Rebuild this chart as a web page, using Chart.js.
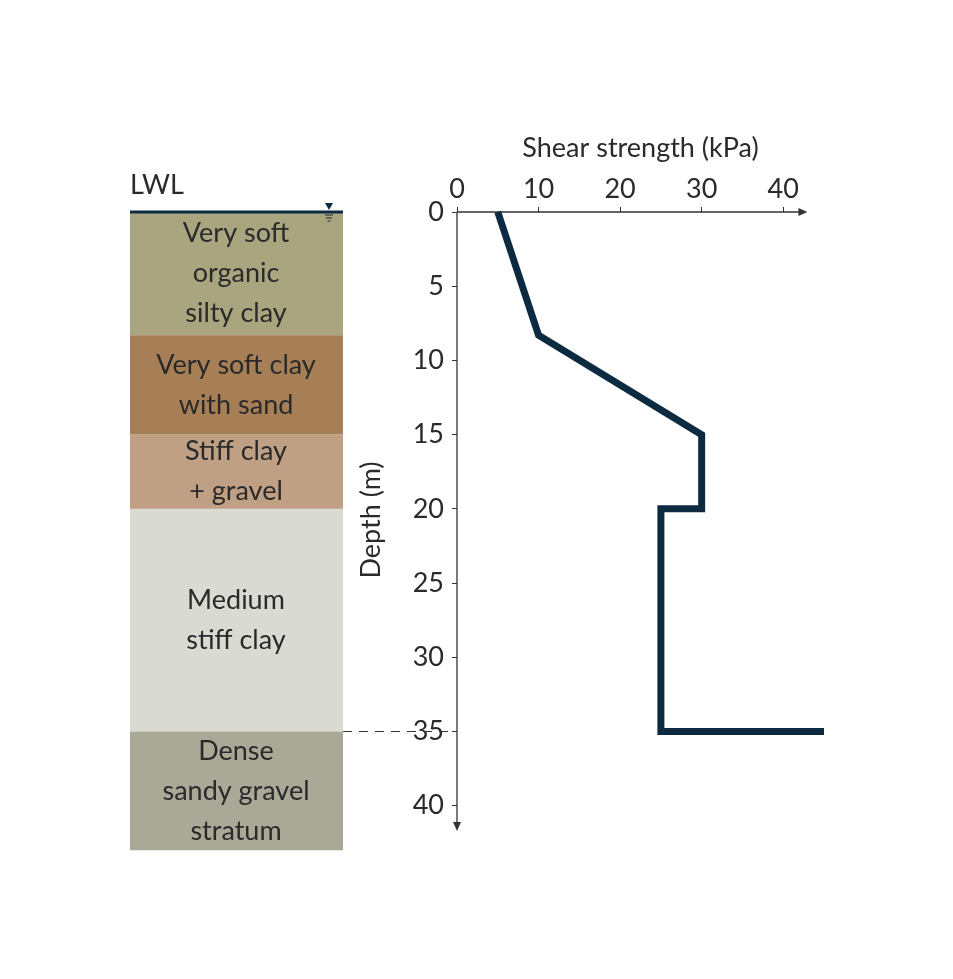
<!DOCTYPE html><html><head><meta charset="utf-8">
<script src="https://cdn.jsdelivr.net/npm/chart.js@4/dist/chart.umd.min.js"></script>
<style>html,body{margin:0;background:#fff}#w{width:953px;height:979px}</style></head><body>
<div id="w"><canvas id="c"></canvas></div>
<script>
const strengthKPa=[5,10,30,30,25,25,45];
const depthM=[0,8.3,15,20,20,35,35];
const xTicks=[0,10,20,30,40];
const yTicks=[0,5,10,15,20,25,30,35,40];
const layerTop=[0,8.3,15,20,35];
const layerBottom=[8.3,15,20,35,43];
const layerNames=[["Very soft","organic","silty clay"],["Very soft clay","with sand"],["Stiff clay","+ gravel"],["Medium","stiff clay"],["Dense","sandy gravel","stratum"]];
const layerColors=["#a9a57f","#a77f57","#bfa085","#d9dad1","#aaa896"];
const FONT="Lato, 'Open Sans', sans-serif";
const INK="#2a2a2a",LINE="#0c2a40";
const deco={id:'deco',beforeDatasetsDraw(ch){
 const c=ch.ctx,x=ch.scales.x,y=ch.scales.y;
 c.save();
 const L=130,R=343;
 layerTop.forEach((t,i)=>{const y0=y.getPixelForValue(t),y1=y.getPixelForValue(layerBottom[i]);
  c.fillStyle=layerColors[i];c.fillRect(L,y0,R-L,y1-y0);
  c.fillStyle=INK;c.font="27px "+FONT;c.textAlign='center';c.textBaseline='middle';
  const n=layerNames[i],lh=40,cy=(y0+y1)/2;
  n.forEach((s,j)=>c.fillText(s,236,cy+(j-(n.length-1)/2)*lh));});
 // LWL
 const y0=y.getPixelForValue(0);
 c.strokeStyle=LINE;c.lineWidth=3;c.beginPath();c.moveTo(L,y0);c.lineTo(R,y0);c.stroke();
 c.fillStyle=LINE;c.beginPath();c.moveTo(325,203);c.lineTo(333,203);c.lineTo(329,210);c.fill();
 c.lineWidth=1;c.beginPath();c.moveTo(325,215);c.lineTo(333,215);c.moveTo(326,218);c.lineTo(332,218);c.moveTo(327.5,221);c.lineTo(330.5,221);c.stroke();
 c.fillStyle=INK;c.font="27px "+FONT;c.textAlign='left';c.textBaseline='middle';c.fillText("LWL",130,185);
 // dashed
 const y35=y.getPixelForValue(35);
 c.strokeStyle="#333";c.lineWidth=1;c.setLineDash([9,7]);c.beginPath();c.moveTo(343,y35);c.lineTo(x.getPixelForValue(0),y35);c.stroke();c.setLineDash([]);
 // axes
 const x0=x.getPixelForValue(0),xe=x.getPixelForValue(42.6),ye=y.getPixelForValue(41.5);
 c.strokeStyle="#333";c.fillStyle="#333";c.lineWidth=1.3;
 c.beginPath();c.moveTo(x0,y0);c.lineTo(xe,y0);c.moveTo(x0,y0);c.lineTo(x0,ye);c.stroke();
 c.beginPath();c.moveTo(xe+3,y0);c.lineTo(xe-6,y0-4);c.lineTo(xe-6,y0+4);c.fill();
 c.beginPath();c.moveTo(x0,ye+3);c.lineTo(x0-4,ye-6);c.lineTo(x0+4,ye-6);c.fill();
 c.restore();}};
new Chart(document.getElementById('c'),{type:'line',
 data:{datasets:[{data:strengthKPa.map((v,i)=>({x:v,y:depthM[i]})),borderColor:LINE,borderWidth:7,pointRadius:0,borderJoinStyle:'miter',borderCapStyle:'butt',clip:false,tension:0}]},
 options:{responsive:true,maintainAspectRatio:false,animation:false,
  layout:{padding:{left:355,top:132,right:129,bottom:151}},
  plugins:{legend:{display:false},tooltip:{enabled:false}},
  scales:{
   x:{type:'linear',position:'top',min:0,max:45,afterBuildTicks:s=>{s.ticks=xTicks.map(v=>({value:v}))},
    afterFit:s=>{s.height=80},
    border:{display:false},grid:{drawOnChartArea:false,tickLength:5,color:'#333'},
    ticks:{color:INK,font:{family:FONT,size:27},padding:2},
    title:{display:true,text:'Shear strength (kPa)',color:INK,font:{family:FONT,size:27},padding:0}},
   y:{type:'linear',reverse:true,min:0,max:41.5,afterBuildTicks:s=>{s.ticks=yTicks.map(v=>({value:v}))},
    afterFit:s=>{s.width=102},
    border:{display:false},grid:{drawOnChartArea:false,tickLength:5,color:'#333'},
    ticks:{color:INK,font:{family:FONT,size:27},padding:8},
    title:{display:true,text:'Depth (m)',color:INK,font:{family:FONT,size:27},padding:0}}}},
 plugins:[deco]});
</script></body></html>
